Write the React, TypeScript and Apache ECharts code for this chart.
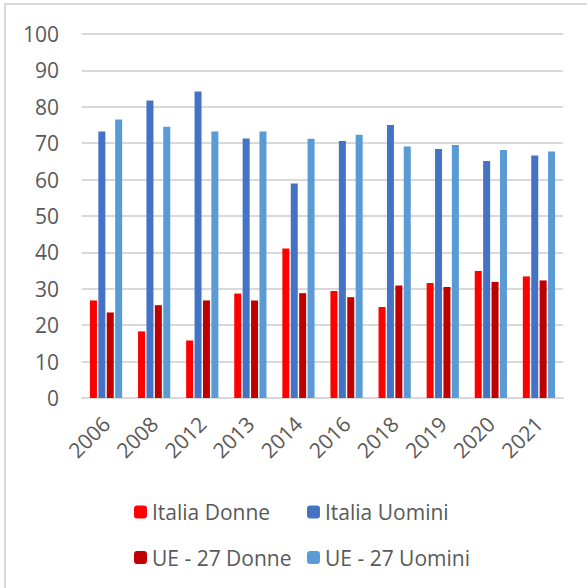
import React, { useEffect, useRef } from "react";
import * as echarts from "echarts";

const categories = ["2006", "2008", "2012", "2013", "2014", "2016", "2018", "2019", "2020", "2021"];
const italiaDonne = [26.8, 18.3, 15.8, 28.7, 41.1, 29.4, 25.0, 31.6, 34.9, 33.4];
const italiaUomini = [73.2, 81.7, 84.2, 71.3, 58.9, 70.6, 75.0, 68.4, 65.1, 66.6];
const ueDonne = [23.5, 25.5, 26.8, 26.8, 28.8, 27.7, 30.9, 30.5, 31.9, 32.3];
const ueUomini = [76.5, 74.5, 73.2, 73.2, 71.2, 72.3, 69.1, 69.5, 68.1, 67.7];

const FONT = "'Open Sans', 'Noto Sans', sans-serif";
const GREY = "#595959";

export default function App() {
  const ref = useRef<HTMLDivElement>(null);
  useEffect(() => {
    document.body.style.margin = "0";
    const chart = echarts.init(ref.current!, null, { renderer: "svg" });
    const legendText = { color: GREY, fontSize: 21, fontFamily: FONT, lineHeight: 22 };
    const legendBase = {
      orient: "vertical" as const,
      top: 501,
      padding: 0,
      itemWidth: 13,
      itemHeight: 13,
      itemGap: 23.6,
      textStyle: legendText,
    };
    const barBase = { type: "bar" as const, barGap: "20%", barCategoryGap: "33%" };
    chart.setOption({
      animation: false,
      backgroundColor: "#ffffff",
      graphic: [
        {
          type: "rect",
          shape: { x: 5, y: 4, width: 640, height: 640 },
          style: { fill: "none", stroke: "#d9d9d9", lineWidth: 2 },
          silent: true,
        },
      ],
      grid: { left: 82, right: 24, top: 34, bottom: 190 },
      legend: [
        { ...legendBase, left: 134, data: ["Italia Donne", "UE - 27 Donne"] },
        { ...legendBase, left: 307, data: ["Italia Uomini", "UE - 27 Uomini"] },
      ],
      xAxis: {
        type: "category",
        data: categories,
        axisLine: { lineStyle: { color: "#d9d9d9", width: 2 } },
        axisTick: { show: false },
        axisLabel: { rotate: 45, color: GREY, fontSize: 21, fontFamily: FONT, margin: 22 },
      },
      yAxis: {
        type: "value",
        min: 0,
        max: 100,
        interval: 10,
        axisLine: { show: false },
        axisTick: { show: false },
        splitLine: { lineStyle: { color: "#d9d9d9", width: 2 } },
        axisLabel: { color: GREY, fontSize: 21, fontFamily: FONT, margin: 23 },
      },
      series: [
        { ...barBase, name: "Italia Donne", data: italiaDonne, itemStyle: { color: "#FF0000" } },
        { ...barBase, name: "Italia Uomini", data: italiaUomini, itemStyle: { color: "#4472C4" } },
        { ...barBase, name: "UE - 27 Donne", data: ueDonne, itemStyle: { color: "#C00000" } },
        { ...barBase, name: "UE - 27 Uomini", data: ueUomini, itemStyle: { color: "#5B9BD5" } },
      ],
    });
    return () => chart.dispose();
  }, []);
  return (
    <div
      ref={ref}
      style={{ position: "absolute", left: 0, top: 0, width: 587, height: 588 }}
    />
  );
}
